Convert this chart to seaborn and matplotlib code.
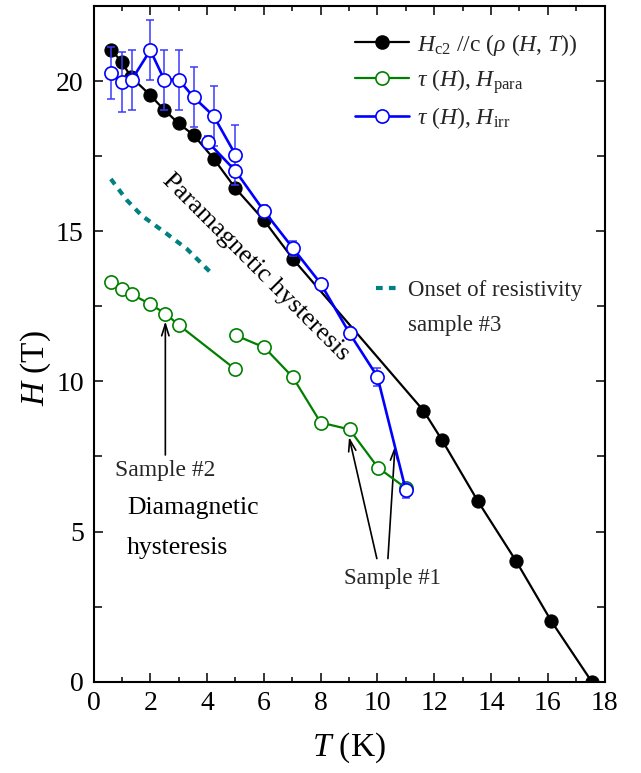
import matplotlib
matplotlib.use("Agg")
import matplotlib.pyplot as plt
from matplotlib.lines import Line2D
from matplotlib.ticker import MultipleLocator
import seaborn as sns

# ---------------- data ----------------
hc2_T = [0.61, 0.99, 1.31, 1.99, 2.49, 3.00, 3.53, 4.23, 5.00, 6.00, 7.03,
         11.62, 12.28, 13.54, 14.89, 16.13, 17.55]
hc2_H = [21.05, 20.65, 20.15, 19.54, 19.04, 18.59, 18.20, 17.42, 16.43, 15.37, 14.07,
         9.03, 8.04, 6.01, 4.01, 2.01, 0.00]

para_s2_T = [0.61, 1.00, 1.35, 2.00, 2.53, 3.00, 5.00]
para_s2_H = [13.32, 13.09, 12.90, 12.57, 12.26, 11.88, 10.40]
para_s1_T = [5.02, 6.02, 7.02, 8.00, 9.02, 10.02, 11.00]
para_s1_H = [11.53, 11.13, 10.14, 8.63, 8.40, 7.13, 6.45]

irr_s2_T = [0.61, 1.00, 1.35, 2.00, 2.49, 3.00, 3.53, 4.23, 5.00]
irr_s2_H = [20.27, 19.98, 20.05, 21.03, 20.05, 20.05, 19.46, 18.84, 17.55]
irr_s2_err = [0.85, 1.0, 1.0, 1.0, 1.0, 1.0, 1.0, 1.0, 1.0]
irr_s1_T = [4.02, 5.00, 6.00, 7.03, 8.00, 9.02, 10.00, 11.00]
irr_s1_H = [17.98, 17.01, 15.68, 14.43, 13.26, 11.60, 10.16, 6.38]
irr_s1_err = [0.2, 0.2, 0.2, 0.25, 0.15, 0.2, 0.3, 0.25]

onset_T = [0.61, 1.17, 1.70, 2.56, 3.29, 4.21]
onset_H = [16.74, 16.04, 15.52, 14.93, 14.41, 13.55]

x_ticks = [0, 2, 4, 6, 8, 10, 12, 14, 16, 18]
y_ticks = [0, 5, 10, 15, 20]

# ---------------- style ----------------
sns.set_theme(style="ticks")
plt.rcParams["font.family"] = ["Liberation Serif", "DejaVu Serif"]
plt.rcParams["mathtext.fontset"] = "custom"
plt.rcParams["mathtext.rm"] = "Liberation Serif"
plt.rcParams["mathtext.it"] = "Liberation Serif:italic"
plt.rcParams["mathtext.bf"] = "Liberation Serif:bold"

BLACK = "#000000"
GREEN = "#008000"
BLUE = "#0000ff"
TEAL = "#008080"

fig = plt.figure(figsize=(6.41, 7.73), dpi=100)
ax = fig.add_axes([0.1459, 0.1181, 0.7972, 0.8741])

# onset of resistivity (dashed)
sns.lineplot(x=onset_T, y=onset_H, ax=ax, color=TEAL, lw=3.0, sort=False,
             estimator=None, dashes=False, zorder=2).lines[-1].set_dashes((1.6, 1.5))

# Hc2 black
sns.lineplot(x=hc2_T, y=hc2_H, ax=ax, color=BLACK, lw=1.6, sort=False, estimator=None,
             marker="o", markersize=9.5, markerfacecolor=BLACK, markeredgecolor=BLACK,
             zorder=3)

# H_para green
for tx, hy in ((para_s2_T, para_s2_H), (para_s1_T, para_s1_H)):
    sns.lineplot(x=tx, y=hy, ax=ax, color=GREEN, lw=1.6, sort=False, estimator=None,
                 marker="o", markersize=9.5, markerfacecolor="white",
                 markeredgecolor=GREEN, markeredgewidth=1.2, zorder=4)

# H_irr blue with error bars
for tx, hy, er in ((irr_s2_T, irr_s2_H, irr_s2_err), (irr_s1_T, irr_s1_H, irr_s1_err)):
    ax.errorbar(tx, hy, yerr=er, fmt="none", ecolor="#3a3aff", elinewidth=1.1,
                capsize=3.2, capthick=1.1, zorder=5)
    sns.lineplot(x=tx, y=hy, ax=ax, color=BLUE, lw=1.9, sort=False, estimator=None,
                 marker="o", markersize=9.5, markerfacecolor="white",
                 markeredgecolor=BLUE, markeredgewidth=1.2, zorder=6)

# ---------------- axes ----------------
ax.set_xlim(0, 18)
ax.set_ylim(0, 22.5)
ax.set_xticks(x_ticks)
ax.set_yticks(y_ticks)
ax.xaxis.set_minor_locator(MultipleLocator(1))
ax.yaxis.set_minor_locator(MultipleLocator(2.5))
ax.tick_params(which="both", direction="in", top=True, right=True, width=1.1,
               labelsize=20, pad=7, color="black", labelcolor="black")
ax.tick_params(which="major", length=6.5)
ax.tick_params(axis="x", which="minor", length=3.8)
ax.tick_params(axis="y", which="minor", length=6.0)
for sp in ax.spines.values():
    sp.set_linewidth(1.5)
    sp.set_color("black")
    sp.set_visible(True)

ax.set_xlabel(r"$T$ (K)", fontsize=24, color="black")
ax.set_ylabel(r"$H$ (T)", fontsize=24, color="black")
ax.xaxis.set_label_coords(0.5, -0.072)
ax.yaxis.set_label_coords(-0.080, 0.464)

# ---------------- legends ----------------
h1 = Line2D([], [], color=BLACK, lw=1.6, marker="o", ms=9.5, mfc=BLACK, mec=BLACK)
h2 = Line2D([], [], color=GREEN, lw=1.6, marker="o", ms=9.5, mfc="white", mec=GREEN, mew=1.2)
h3 = Line2D([], [], color=BLUE, lw=1.9, marker="o", ms=9.5, mfc="white", mec=BLUE, mew=1.2)
leg1 = ax.legend([h1, h2, h3],
                 [r"$H_{\rm c2}$ //c ($\rho$ ($H$, $T$))",
                  r"$\tau$ ($H$), $H_{\rm para}$",
                  r"$\tau$ ($H$), $H_{\rm irr}$"],
                 loc="upper left", bbox_to_anchor=(0.512, 0.962), frameon=False,
                 fontsize=17, handlelength=2.3, handletextpad=0.3, labelspacing=0.40,
                 borderpad=0, borderaxespad=0, numpoints=1)
ax.add_artist(leg1)

ht = Line2D([], [], color=TEAL, lw=3.0, dashes=(1.6, 1.5))
hn = Line2D([], [], color="none")
ax.legend([ht, hn], ["Onset of resistivity", "sample #3"],
          loc="upper left", bbox_to_anchor=(0.553, 0.594), frameon=False,
          fontsize=16.5, handlelength=0.95, handletextpad=0.45, labelspacing=0.58,
          borderpad=0, borderaxespad=0)

# ---------------- annotations ----------------
ax.text(5.72, 13.79, "Paramagnetic hysteresis", rotation=-45, rotation_mode="anchor",
        ha="center", va="center", fontsize=19, color="black", zorder=7)
ax.text(1.18, 5.13, "Diamagnetic\nhysteresis", ha="left", va="center",
        fontsize=18.5, linespacing=2.05, color="black")

arrow = dict(arrowstyle="->,head_length=0.7,head_width=0.22", color="black", lw=1.2,
             shrinkA=0, shrinkB=0)
ax.text(2.52, 7.04, "Sample #2", ha="center", va="center", fontsize=17)
ax.annotate("", xy=(2.53, 12.0), xytext=(2.53, 7.55), arrowprops=arrow)

ax.text(10.52, 3.45, "Sample #1", ha="center", va="center", fontsize=16.5)
ax.annotate("", xy=(9.0, 8.15), xytext=(9.98, 4.1), arrowprops=arrow)
ax.annotate("", xy=(10.62, 7.85), xytext=(10.37, 4.1), arrowprops=arrow)

fig.savefig("out.png", dpi=100)
